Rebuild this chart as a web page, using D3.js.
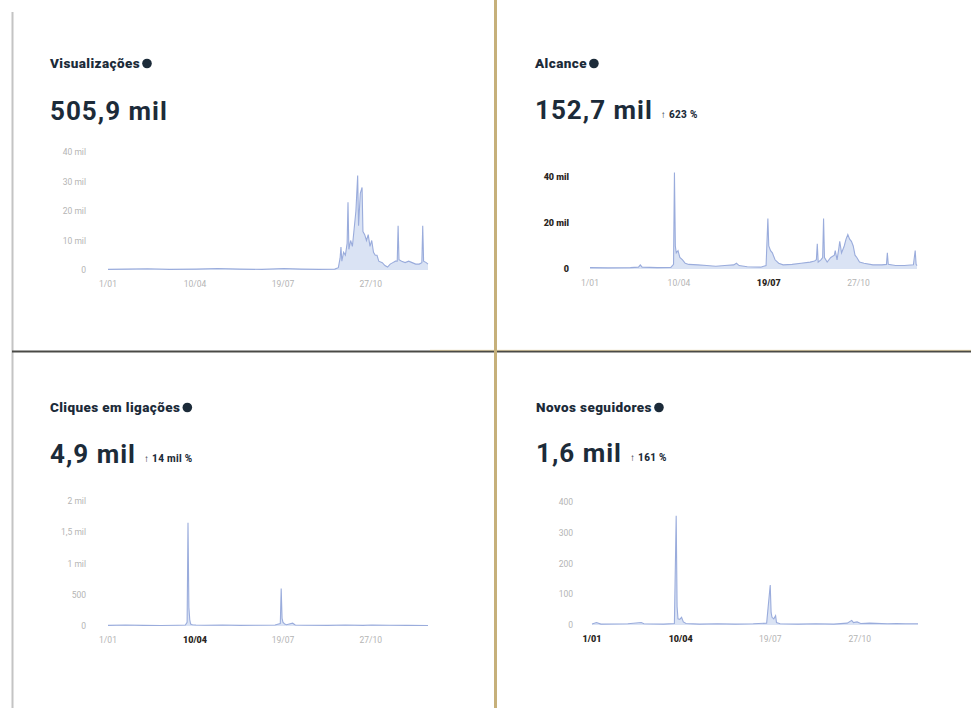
<!DOCTYPE html>
<html><head><meta charset="utf-8">
<script src="https://cdn.jsdelivr.net/npm/d3@7"></script>
<style>
html,body{margin:0;padding:0;background:#fff;}
svg{display:block;font-family:Roboto,"Noto Sans",sans-serif;}
</style></head>
<body><svg id="c" width="971" height="708"></svg>
<script>
// ---- data (day index from 1 Jan, value) ----
const xTickDays = [0, 99, 199, 299];
const xTickLabels = ["1/01", "10/04", "19/07", "27/10"];

const titles = ["Visualizações", "Alcance", "Cliques em ligações", "Novos seguidores"];
const totals = ["505,9 mil", "152,7 mil", "4,9 mil", "1,6 mil"];
const changes = ["", "↑ 623 %", "↑ 14 mil %", "↑ 161 %"];

const yTicks1 = [0, 10000, 20000, 30000, 40000];
const yTickLabels1 = ["0", "10 mil", "20 mil", "30 mil", "40 mil"];
const yTicks2 = [0, 20000, 40000];
const yTickLabels2 = ["0", "20 mil", "40 mil"];
const yTicks3 = [0, 500, 1000, 1500, 2000];
const yTickLabels3 = ["0", "500", "1 mil", "1,5 mil", "2 mil"];
const yTicks4 = [0, 100, 200, 300, 400];
const yTickLabels4 = ["0", "100", "200", "300", "400"];

const views = [[0,200],[20,300],[45,400],[70,200],[100,300],[125,500],[150,300],[175,200],[200,500],[220,300],[240,200],[258,300],[262,800],[264,4000],[265,7800],[266,3000],[268,6000],[270,5000],[272,9000],[273,23000],[274,7000],[276,10000],[278,8000],[280,14000],[282,20000],[284,32000],[285,15000],[287,26000],[289,28000],[290,13000],[292,12000],[294,10000],[296,12000],[298,8000],[300,10000],[302,6000],[304,5000],[306,5000],[308,3000],[312,2500],[315,1500],[318,1000],[321,2000],[324,2500],[327,3000],[329,3000],[330,15000],[331,3500],[334,3000],[338,2500],[342,3000],[346,2500],[350,2000],[354,2000],[357,2500],[358,15000],[359,3000],[362,2500],[364,2000]];

const reach = [[0,600],[20,500],[45,600],[54,800],[56,1800],[58,800],[75,600],[90,700],[93,2000],[94,42000],[95,10000],[96,7000],[98,8000],[100,5000],[103,4000],[106,2500],[110,2000],[120,1800],[130,1500],[140,1200],[150,1500],[160,1800],[163,2500],[166,1500],[175,1000],[190,800],[196,1500],[198,22000],[199,10000],[201,8000],[203,7000],[206,4000],[210,2500],[215,1800],[225,2000],[235,2500],[245,3000],[250,3500],[252,4000],[253,11000],[254,3000],[257,4000],[259,5000],[260,22000],[261,5000],[264,3000],[268,5000],[272,6000],[273,8000],[275,4000],[277,9000],[278,12000],[280,7000],[283,10000],[285,13000],[287,15000],[289,13000],[291,12000],[293,10000],[295,6000],[297,5000],[300,3000],[305,2500],[315,1800],[325,1800],[330,2000],[331,7000],[332,2000],[340,1500],[350,1500],[360,1800],[362,8000],[363,2000],[364,1500]];

const clicks = [[0,10],[20,15],[40,10],[60,8],[80,12],[88,15],[90,60],[91,1650],[92,300],[93,100],[94,30],[96,20],[100,15],[110,12],[130,15],[150,10],[170,12],[190,15],[196,40],[197,600],[198,120],[199,60],[201,30],[203,20],[210,45],[213,15],[225,12],[250,10],[270,15],[290,10],[300,15],[320,12],[340,10],[364,8]];

const followers = [[0,3],[5,8],[10,3],[40,4],[55,8],[58,4],[80,3],[92,5],[94,355],[95,60],[96,20],[98,18],[100,25],[102,10],[105,5],[120,3],[140,4],[160,3],[180,4],[195,6],[199,130],[200,40],[201,25],[203,20],[205,30],[206,8],[210,4],[230,3],[250,4],[270,3],[285,6],[290,15],[292,8],[296,10],[300,5],[310,6],[330,4],[340,5],[350,4],[364,4]];

// ---- layout ----
const panels = [
  {data: views, yt: yTicks1, yl: yTickLabels1, ymax: 40000, tx: 50, ty: 68, vy: 120, x0: 108, x1: 428, y0: 270, y1: 152, lx: 86, boldY: false, boldX: []},
  {data: reach, yt: yTicks2, yl: yTickLabels2, ymax: 40000, tx: 535, ty: 68, vy: 119, x0: 590, x1: 917, y0: 269, y1: 177, lx: 569, boldY: true, boldX: [2]},
  {data: clicks, yt: yTicks3, yl: yTickLabels3, ymax: 2000, tx: 50, ty: 412, vy: 463, x0: 108, x1: 428, y0: 626, y1: 501, lx: 86, boldY: false, boldX: [1]},
  {data: followers, yt: yTicks4, yl: yTickLabels4, ymax: 400, tx: 536, ty: 412, vy: 462, x0: 592, x1: 918, y0: 625, y1: 502, lx: 573, boldY: false, boldX: [0,1]}
];

const svg = d3.select("#c");
svg.append("rect").attr("width",971).attr("height",708).attr("fill","#fff");

// frame lines
svg.append("line").attr("x1",12.5).attr("x2",12.5).attr("y1",12).attr("y2",708).attr("stroke","#c4c4c4").attr("stroke-width",2);
svg.append("line").attr("x1",12).attr("x2",971).attr("y1",351.5).attr("y2",351.5).attr("stroke","#4a4a46").attr("stroke-width",2.2);
svg.append("line").attr("x1",430).attr("x2",971).attr("y1",350.3).attr("y2",350.3).attr("stroke","#d8b75e").attr("stroke-width",0.8).attr("opacity",0.55);
svg.append("line").attr("x1",495.5).attr("x2",495.5).attr("y1",0).attr("y2",708).attr("stroke","#c6b07a").attr("stroke-width",3);

panels.forEach((p, i) => {
  const g = svg.append("g");
  const x = d3.scaleLinear().domain([0,364]).range([p.x0, p.x1]);
  const y = d3.scaleLinear().domain([0,p.ymax]).range([p.y0, p.y1]);

  // title
  const t = g.append("text").attr("x",p.tx).attr("y",p.ty).text(titles[i])
    .attr("font-size",13.5).attr("font-weight",900).attr("fill","#1c2b39").attr("letter-spacing","0.4");
  const tw = t.node().getComputedTextLength();
  g.append("circle").attr("cx",p.tx+tw+7).attr("cy",p.ty-4.5).attr("r",4.8).attr("fill","#1c2b39");

  // total
  const v = g.append("text").attr("x",p.tx).attr("y",p.vy).text(totals[i])
    .attr("font-size",26).attr("font-weight",700).attr("fill","#1c2b39").attr("letter-spacing","1");
  if (changes[i]) {
    const vw = v.node().getComputedTextLength();
    g.append("text").attr("x",p.tx+vw+8).attr("y",p.vy-1).text(changes[i])
      .attr("font-size",10).attr("font-weight",800).attr("fill","#1c2b39").attr("letter-spacing","0.3");
  }

  // y axis labels
  p.yt.forEach((tv, k) => {
    g.append("text").attr("x",p.lx).attr("y",y(tv)+3).attr("text-anchor","end")
      .text(p.yl[k])
      .attr("font-size", p.boldY ? 9 : 8.5)
      .attr("font-weight", p.boldY ? 900 : 400)
      .attr("fill", p.boldY ? "#2a2622" : "#b4b4b4");
  });

  // x axis labels
  xTickDays.forEach((d, k) => {
    const b = p.boldX.includes(k);
    g.append("text").attr("x",x(d)).attr("y",p.y0+17).attr("text-anchor","middle")
      .text(xTickLabels[k])
      .attr("font-size", b ? 9 : 8.5)
      .attr("font-weight", b ? 900 : 400)
      .attr("fill", b ? "#2a2622" : "#b4b4b4");
  });

  // area + line
  const area = d3.area().x(d => x(d[0])).y0(y(0)).y1(d => y(d[1]));
  const line = d3.line().x(d => x(d[0])).y(d => y(d[1]));
  g.append("path").datum(p.data).attr("d",area).attr("fill","#d3def2").attr("opacity",0.85);
  g.append("path").datum(p.data).attr("d",line).attr("fill","none").attr("stroke","#9aacdc").attr("stroke-width",1.1);
});
</script>
</body></html>
